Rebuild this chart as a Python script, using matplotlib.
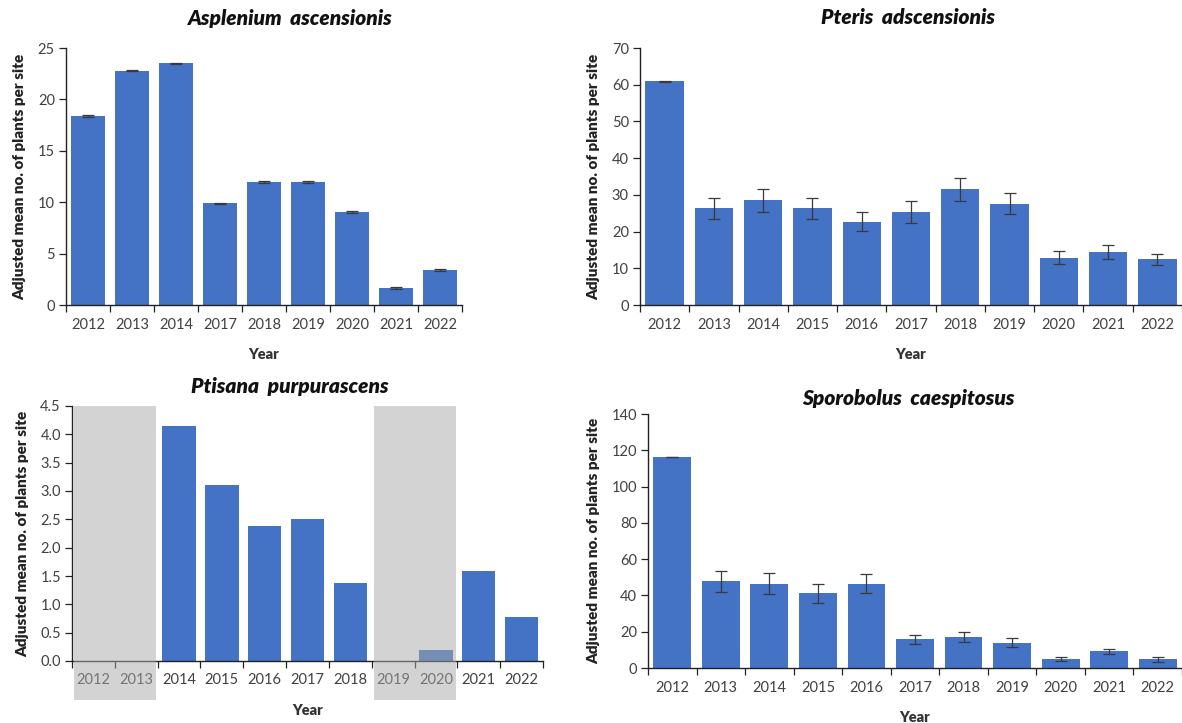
import numpy as np
import matplotlib
matplotlib.use("Agg")
import matplotlib.pyplot as plt
from matplotlib.patches import Rectangle
from matplotlib.ticker import FixedLocator, NullFormatter

plt.rcParams["font.family"] = ["Lato", "DejaVu Sans"]

BLUE = "#4472C4"
TICK_GREY = "#404040"

# ─── Data: adjusted mean plants per site (± error) ──────────────────────────
asp_years = ["2012", "2013", "2014", "2017", "2018", "2019", "2020", "2021", "2022"]
asp_mean = [18.4, 22.8, 23.5, 9.9, 11.95, 11.95, 9.05, 1.65, 3.4]
asp_err = [0.07, 0.07, 0.07, 0.07, 0.07, 0.07, 0.07, 0.07, 0.07]

pte_years = ["2012", "2013", "2014", "2015", "2016", "2017", "2018", "2019", "2020", "2021", "2022"]
pte_mean = [60.9, 26.3, 28.5, 26.3, 22.7, 25.3, 31.5, 27.6, 12.9, 14.4, 12.5]
pte_err = [0.2, 2.8, 3.2, 2.8, 2.5, 2.9, 3.2, 2.9, 1.8, 2.0, 1.5]

pti_years = ["2012", "2013", "2014", "2015", "2016", "2017", "2018", "2019", "2020", "2021", "2022"]
pti_mean = [0.0, 0.0, 4.15, 3.10, 2.38, 2.51, 1.37, 0.0, 0.19, 1.58, 0.78]
pti_missing = [("2012", "2013"), ("2019", "2020")]   # years with incomplete surveys

spo_years = ["2012", "2013", "2014", "2015", "2016", "2017", "2018", "2019", "2020", "2021", "2022"]
spo_mean = [116.4, 47.8, 46.5, 41.3, 46.5, 15.9, 17.1, 13.9, 4.8, 9.2, 4.7]
spo_err = [0.1, 5.8, 5.8, 5.2, 5.1, 2.5, 2.5, 2.5, 1.2, 1.3, 1.2]

YLABEL = "Adjusted mean no. of plants per site"


def panel(fig, rect, title, years, mean, err, ymax, ystep, fmt, title_xy):
    ax = fig.add_axes(rect)
    x = np.arange(len(years))
    ax.bar(x, mean, width=0.78, color=BLUE, zorder=2)
    if err is not None:
        ax.errorbar(x, mean, yerr=err, fmt="none", ecolor="#3a3a3a",
                    elinewidth=0.9, capsize=4, capthick=0.9, zorder=3)

    ax.set_xlim(-0.5, len(years) - 0.5)
    ax.set_ylim(0, ymax)
    ax.set_yticks(np.arange(0, ymax + ystep / 2, ystep))
    ax.yaxis.set_major_formatter(plt.FuncFormatter(lambda v, _: fmt.format(v)))

    # category labels between tick marks, Excel style
    ax.set_xticks(x)
    ax.set_xticklabels(years)
    ax.xaxis.set_minor_locator(FixedLocator(np.arange(-0.5, len(years), 1.0)))
    ax.xaxis.set_minor_formatter(NullFormatter())
    ax.tick_params(axis="x", which="major", length=0, pad=9,
                   labelsize=10.5, labelcolor=TICK_GREY)
    ax.tick_params(axis="x", which="minor", length=5, width=0.9, color="#222222")
    ax.tick_params(axis="y", length=5, width=0.9, color="#222222",
                   labelsize=10.5, labelcolor=TICK_GREY, pad=3)

    for side in ("top", "right"):
        ax.spines[side].set_visible(False)
    for side in ("left", "bottom"):
        ax.spines[side].set_linewidth(1.0)
        ax.spines[side].set_color("#222222")

    ax.set_xlabel("Year", fontsize=10.5, fontweight="heavy",
                  color="#333333", labelpad=12)
    ax.set_ylabel(YLABEL, fontsize=11, fontweight="heavy",
                  color="#222222", labelpad=8)
    fig.text(title_xy[0], title_xy[1], title, ha="center", va="center",
             fontsize=15, fontweight="heavy", style="italic", color="#111111")
    return ax


fig = plt.figure(figsize=(11.82, 7.23), dpi=100)

W, H = 1182.0, 723.0


def rect(l, t, r, b):
    return [l / W, 1 - b / H, (r - l) / W, (b - t) / H]


panel(fig, rect(66, 48, 462, 305), "Asplenium  ascensionis",
      asp_years, asp_mean, asp_err, 25, 5, "{:.0f}", (290 / W, 1 - 18 / H))

ax_pte = panel(fig, rect(640, 48, 1182, 305), "Pteris  adscensionis",
               pte_years, pte_mean, pte_err, 70, 10, "{:.0f}", (908 / W, 1 - 18 / H))

ax_pti = panel(fig, rect(72, 406, 543, 661), "Ptisana  purpurascens",
               pti_years, pti_mean, None, 4.5, 0.5, "{:.1f}", (290 / W, 1 - 386 / H))

ax_spo = panel(fig, rect(648, 414, 1182, 668), "Sporobolus  caespitosus",
               spo_years, spo_mean, spo_err, 140, 20, "{:.0f}", (908 / W, 1 - 398 / H))

# grey out the unsurveyed years, reaching down over their labels
for first, last in pti_missing:
    i0 = pti_years.index(first)
    i1 = pti_years.index(last)
    band = Rectangle((i0 - 0.45, -0.153), (i1 - i0) + 0.92, 1.153,
                     transform=ax_pti.get_xaxis_transform(), clip_on=False,
                     facecolor="#a8a8a8", alpha=0.5, edgecolor="none", zorder=5)
    ax_pti.add_patch(band)

fig.savefig("out.png", dpi=100)
